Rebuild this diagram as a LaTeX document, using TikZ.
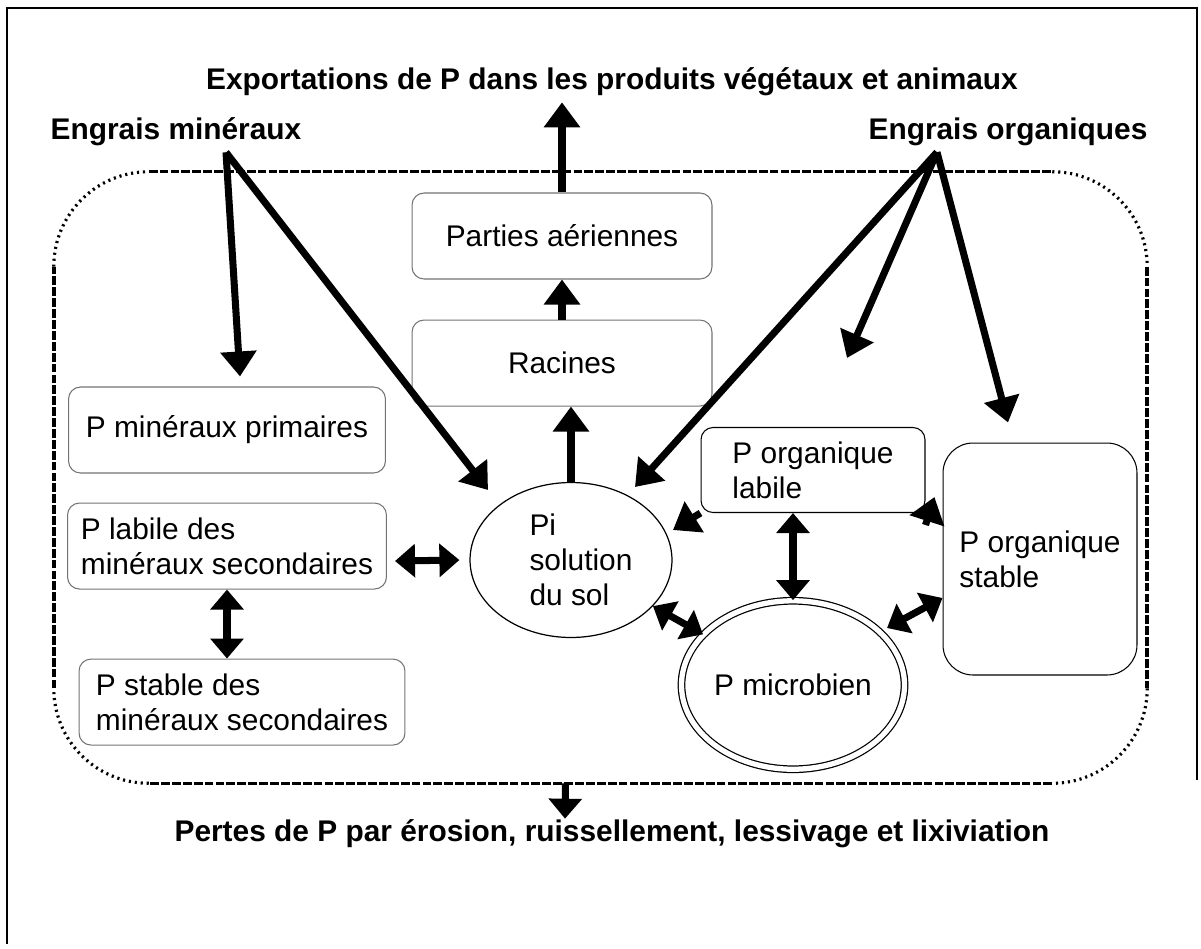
\documentclass[tikz,border=0pt]{standalone}
\usepackage{fontspec}
\setmainfont{Liberation Sans}
\usetikzlibrary{arrows.meta, positioning, shapes.geometric, calc}

\begin{document}
\begin{tikzpicture}[x=0.02cm, y=-0.02cm,
					box/.style={draw=black!55, rounded corners=0.24cm, minimum width=6cm, minimum height=1.72cm, align=left, line width=0.6pt},
					darkbox/.style={box, draw=black},
					oval/.style={draw, ellipse, inner sep=0pt, align=left, line width=0.7pt},
					arrow/.style={-{Triangle[length=0.5cm, width=0.7cm]}, line width=4pt},
					biarrow/.style={{Triangle[length=0.4cm, width=0.65cm]}-{Triangle[length=0.4cm, width=0.65cm]}, line width=4pt},
					heading/.style={font=\fontsize{17}{20}\selectfont\bfseries},
					soilline/.style={line width=2pt, dash pattern=on 5pt off 1.2pt},
					soilcorner/.style={line width=1.8pt, dash pattern=on 1.2pt off 2.2pt},
					font=\fontsize{17}{20}\selectfont
					]
					
					\useasboundingbox (0,0) rectangle (1201,948);
					\draw[line width=1pt] (7,944) -- (7,8) -- (1197,8) -- (1197,780);
					
					\node[heading] (export) at (612,82) {Exportations de P dans les produits végétaux et animaux};
					\node[heading] (minfert) at (176,132) {Engrais minéraux};
					\node[heading] (orgfert) at (1008,132) {Engrais organiques};
					\node[heading] (losses) at (612,834) {Pertes de P par érosion, ruissellement, lessivage et lixiviation};
					
					\node[minimum width=21.86cm, minimum height=12.22cm, inner sep=0pt] (soil) at (600.5,477.5) {};
					
					\node[box] (aerial) at (562,236) {Parties aériennes};
					\node[box, below=0.8cm of aerial] (roots) {Racines};
					\node[box, minimum width=6.34cm] (primary) at (227,430) {P minéraux primaires};
					\node[box, minimum width=6.38cm, below=0.58cm of primary] (labsec) {P labile des\\minéraux secondaires};
					\node[box, minimum width=6.52cm, below=1.38cm of labsec, xshift=0.3cm] (stabsec) {P stable des\\minéraux secondaires};
					\node[oval, minimum width=4.04cm, minimum height=3.1cm] (pi) at (571,560) {\hspace*{0.4cm}Pi\\\hspace*{0.4cm}solution\\\hspace*{0.4cm}du sol};
					\node[oval, double, double distance=3pt, minimum width=4.32cm, minimum height=3.37cm] (microbe) at (793,685) {P microbien};
					\node[darkbox, minimum width=4.48cm, minimum height=1.7cm] (orglab) at (813,470) {P organique\\labile};
					\node[darkbox, rounded corners=0.6cm, minimum width=3.88cm, minimum height=4.64cm] (orgstab) at (1040,559) {P organique\\stable};
					
					\coordinate (minsrc) at ($(minfert.south)+(50,0)$);
					\coordinate (orgsrc) at ($(orgfert.south)+(-71,0)$);
					\coordinate (orgmid) at (847,358);
					
					% soil boundary
					\draw[soilline] ($(soil.north west)+(95,0)$) -- ($(soil.north east)+(-95,0)$);
					\draw[soilline] ($(soil.north east)+(0,95)$) -- ($(soil.south east)+(0,-95)$);
					\draw[soilline] ($(soil.south east)+(-95,0)$) -- ($(soil.south west)+(95,0)$);
					\draw[soilline] ($(soil.south west)+(0,-95)$) -- ($(soil.north west)+(0,95)$);
					\draw[soilcorner] ($(soil.north west)+(0,95)$) arc[start angle=180, end angle=90, radius=1.9cm];
					\draw[soilcorner] ($(soil.north east)+(-95,0)$) arc[start angle=90, end angle=0, radius=1.9cm];
					\draw[soilcorner] ($(soil.south east)+(0,-95)$) arc[start angle=0, end angle=-90, radius=1.9cm];
					\draw[soilcorner] ($(soil.south west)+(95,0)$) arc[start angle=270, end angle=180, radius=1.9cm];
					
					% Connections
					\draw[arrow] (aerial.north) -- (aerial.north |- export.south);
					\draw[arrow] (roots.north) -- (aerial.south);
					\draw[arrow] (pi.north) -- (pi.north |- roots.south);
					\draw[arrow] (minsrc) -- ([xshift=0.26cm, yshift=0.2cm]primary.north);
					\draw[arrow] (minsrc) -- ($(pi.center)+(-83,-70)$);
					\draw[arrow] (orgsrc) -- ($(pi.center)+(64,-73)$);
					\draw[arrow] (orgsrc) -- (orgmid);
					\draw[arrow] (orgsrc) -- ($(orgstab.north)+(-32,-20)$);
					\draw[arrow] (orglab.south west) -- ($(pi.center)+(102,-30)$);
					\draw[arrow] ($(orglab.south east)+(0,12)$) -- ($(orgstab.west)+(-8,-62)$);
					\draw[biarrow] ($(labsec.east)+(8,15)$) -- ($(pi.west)+(-10,0)$);
					\draw[biarrow] (labsec.south) -- (labsec.south |- stabsec.north);
					\draw[biarrow] (microbe.north |- orglab.south) -- (microbe.north);
					\draw[biarrow] (pi) -- (microbe);
					\draw[biarrow] ($(microbe.center)+(94,-57)$) -- ($(orgstab.west)+(0,39)$);
					\draw[-{Triangle[length=0.4cm, width=0.65cm]}, line width=4pt] ([xshift=-0.7cm]soil.south) -- ([xshift=-0.94cm, yshift=-0.1cm]losses.north);
					
				\end{tikzpicture}
\end{document}
